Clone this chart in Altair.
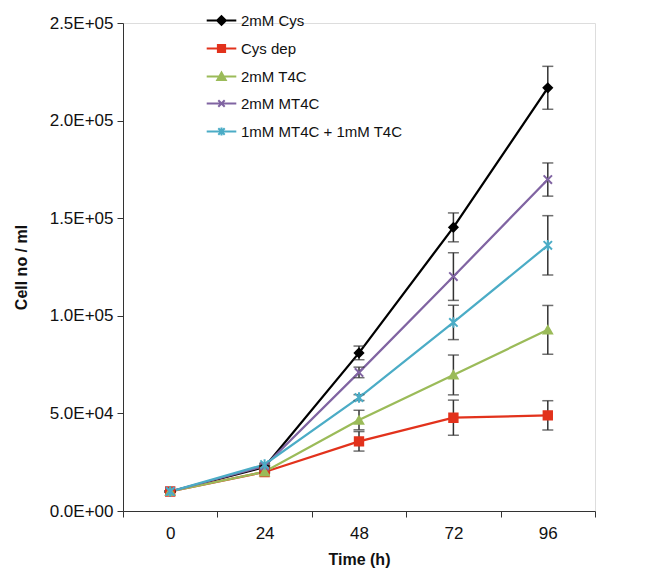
import altair as alt
import pandas as pd

times = ["0", "24", "48", "72", "96"]
series_names = ["2mM Cys", "Cys dep", "2mM T4C", "2mM MT4C", "1mM MT4C + 1mM T4C"]

cys_vals = [10000, 22500, 81000, 145300, 216800]
cys_err = [400, 600, 3500, 7400, 11000]
dep_vals = [10000, 20000, 35700, 47800, 49000]
dep_err = [400, 500, 5000, 9000, 7500]
t4c_vals = [10000, 20100, 46600, 69700, 92800]
t4c_err = [400, 500, 5000, 10200, 12500]
mt4c_vals = [10000, 23000, 71000, 120100, 169800]
mt4c_err = [400, 600, 2700, 12200, 8500]
mix_vals = [10000, 23800, 58100, 96600, 136100]
mix_err = [400, 600, 1500, 8800, 15200]

colors = ["#000000", "#E2321C", "#9BBB59", "#8064A2", "#4BACC6"]

X_PATH = "M-1,-1L1,1M-1,1L1,-1"
STAR_PATH = "M-1,-1L1,1M-1,1L1,-1M0,-1.25L0,1.25"
point_shapes = ["diamond", "square", "triangle-up", X_PATH, STAR_PATH]

LINE = "M-3.7,0L3.7,0"
legend_shapes = [
    LINE + "M0,-1.1L1.1,0L0,1.1L-1.1,0Z",
    LINE + "M-0.9,-0.9L0.9,-0.9L0.9,0.9L-0.9,0.9Z",
    LINE + "M0,-1L1.05,0.85L-1.05,0.85Z",
    LINE + "M-0.8,-0.8L0.8,0.8M-0.8,0.8L0.8,-0.8",
    LINE + "M-0.8,-0.8L0.8,0.8M-0.8,0.8L0.8,-0.8M0,-1L0,1",
]

all_vals = [cys_vals, dep_vals, t4c_vals, mt4c_vals, mix_vals]
all_errs = [cys_err, dep_err, t4c_err, mt4c_err, mix_err]

rows = []
for name, vals, errs in zip(series_names, all_vals, all_errs):
    for t, v, e in zip(times, vals, errs):
        rows.append({"series": name, "time": t, "value": v,
                     "lo": v - e, "hi": v + e})
df = pd.DataFrame(rows)

FONT = "Arial"

x_enc = alt.X(
    "time:N",
    sort=times,
    scale=alt.Scale(domain=times, paddingInner=0, paddingOuter=0),
    axis=alt.Axis(
        title="Time (h)", labelAngle=0, tickBand="extent", labelFontSize=17,
        titleFontSize=16, titleFontWeight="bold", labelPadding=8,
        titlePadding=10, tickSize=6, domainColor="#333333", tickColor="#333333",
        labelColor="#111111", titleColor="#111111",
    ),
)

ylabel = ("datum.value == 0 ? '0.0E+00' : "
          "format(datum.value / pow(10, floor(log(datum.value)/LN10 + 1e-9)), '.1f')"
          " + 'E+0' + floor(log(datum.value)/LN10 + 1e-9)")

y_scale = alt.Scale(domain=[0, 250000], nice=False)
y_enc = alt.Y(
    "value:Q",
    scale=y_scale,
    axis=alt.Axis(
        title="Cell no / ml", values=[0, 50000, 100000, 150000, 200000, 250000],
        labelExpr=ylabel, grid=False, labelFontSize=17, titleFontSize=16,
        titleFontWeight="bold", tickSize=6, labelPadding=4, titlePadding=20,
        domainColor="#333333", tickColor="#333333", labelColor="#111111",
        titleColor="#111111",
    ),
)

color_scale = alt.Scale(domain=series_names, range=colors)

base = alt.Chart(df)

lines = base.mark_line(strokeWidth=2.25).encode(
    x=x_enc, y=y_enc,
    color=alt.Color("series:N", scale=color_scale, legend=None, sort=series_names),
    order=alt.Order("time_order:Q"),
).transform_calculate(time_order="toNumber(datum.time)")

err_rule = base.mark_rule(color="#333333", strokeWidth=1.5).encode(
    x=alt.X("time:N", sort=times), y=alt.Y("lo:Q", scale=y_scale), y2="hi:Q"
)
err_lo = base.mark_tick(color="#333333", thickness=1.5, size=11).encode(
    x=alt.X("time:N", sort=times), y=alt.Y("lo:Q", scale=y_scale)
)
err_hi = base.mark_tick(color="#333333", thickness=1.5, size=11).encode(
    x=alt.X("time:N", sort=times), y=alt.Y("hi:Q", scale=y_scale)
)

points = base.mark_point(size=70, strokeWidth=2, opacity=1).encode(
    x=alt.X("time:N", sort=times), y=alt.Y("value:Q", scale=y_scale),
    fill=alt.Fill("series:N", scale=color_scale, legend=None),
    stroke=alt.Stroke("series:N", scale=color_scale, legend=None),
    shape=alt.Shape("series:N", scale=alt.Scale(domain=series_names, range=point_shapes), legend=None),
)

legend_layer = base.mark_point(size=64, strokeWidth=2, opacity=1).encode(
    x=alt.X("time:N", sort=times), y=alt.Y("value:Q", scale=y_scale),
    fill=alt.Fill("series:N", scale=color_scale, legend=alt.Legend(title=None)),
    stroke=alt.Stroke("series:N", scale=color_scale, legend=alt.Legend(title=None)),
    shape=alt.Shape("series:N", scale=alt.Scale(domain=series_names, range=legend_shapes),
                    legend=alt.Legend(
                        title=None, orient="none", legendX=91, legendY=-10,
                        symbolSize=64, symbolStrokeWidth=2, labelFontSize=15,
                        labelFont=FONT, labelOffset=12, rowPadding=11, padding=0,
                        labelColor="#111111", labelLimit=400,
                    )),
).transform_filter("false")

chart = alt.layer(lines, err_rule, err_lo, err_hi, points, legend_layer).resolve_scale(
    shape="independent", fill="independent", stroke="independent"
).properties(width=472, height=488).configure_view(stroke=None).configure(
    font=FONT
).configure_axis(labelFont=FONT, titleFont=FONT)

chart.save("out.html", embed_options={"renderer": "svg", "actions": False})
